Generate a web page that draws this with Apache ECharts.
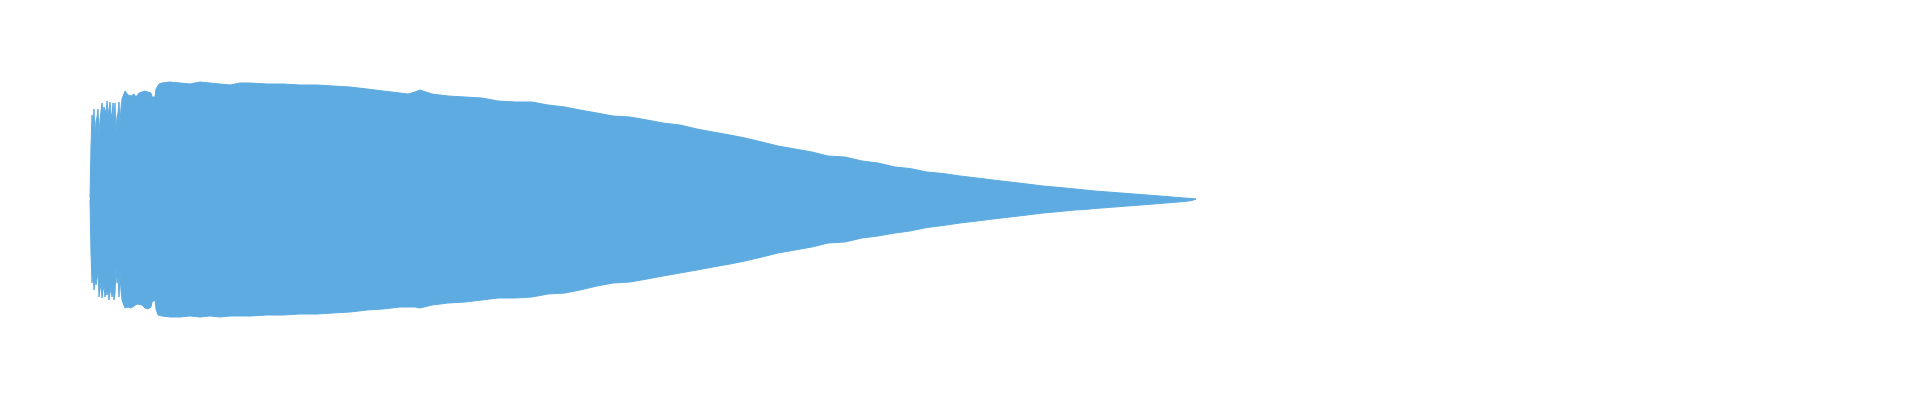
<!DOCTYPE html>
<html>
<head>
<meta charset="utf-8">
<script src="https://cdn.jsdelivr.net/npm/echarts@6/dist/echarts.min.js"></script>
<style>html,body{margin:0;padding:0;background:#fff}#c{width:1920px;height:400px}</style>
</head>
<body>
<div id="c"></div>
<script>
// sample position (time units) of each envelope reading
const time = [0,1,2,3,4,5,6,7,8,9,10,11,12,13,14,15,16,17,18,19,20,21,22,23,24,25,26,27,28,29,30,31,32,33,34,35,36,
  38,41,44,46,47,48,49,52,55,58,61,62,65,66,68,69,72,80,90,100,110,120,130,140,150,160,177,193,210,227,
  243,260,277,293,310,318,325,330,342,358,375,392,408,425,442,458,475,490,507,523,540,557,573,590,607,623,640,655,672,688,
  705,722,738,755,772,788,805,820,837,853,870,887,903,920,937,953,970,985,995,1005,1018,1031,1044,1057,1070,1082,1094,1102,1106];
// upper (max) envelope of the waveform
const upper = [1,53,84,72,90,63,78,82,90,64,79,80,96,85,92,90,86,98,84,90,97,86,82,96,80,96,66,82,86,97,76,91,100,101,101,108,108,
  104,103,105,102,100,100,106,107,108,107,106,102,102,110,111,115,116,117,116,115,117,116,115,114,116,116,115,115,114,114,
  113,112,110,108,106,105,107,109,105,103,102,101,98,97,97,94,92,89,86,83,82,79,76,74,70,67,64,61,57,53,
  50,47,43,42,38,36,32,30.5,27,25.5,23,21,19,17,15,13,11.5,10,9,8,7,6,5,4,3,2,1,0.5,0];
// lower (min) envelope of the waveform
const lower = [-1,-54,-84,-73,-91,-79,-86,-80,-73,-98,-91,-84,-99,-91,-88,-98,-93,-96,-91,-101,-94,-88,-98,-91,-101,-94,-68,-84,-78,-98,-76,-91,-101,-104,-104,-109,-109,
  -108,-109,-107,-106,-105,-104,-104,-106,-109,-110,-108,-103,-101,-110,-116,-116,-117,-118,-118,-117,-118,-117,-118,-117,-117,-117,-116,-116,-115,-115,
  -114,-113,-111,-110,-108,-108,-108,-109,-106,-104,-103,-101,-99,-99,-98,-95,-94,-91,-87,-84,-83,-80,-77,-74,-71,-68,-65,-62,-58,-54,
  -51,-48,-44,-43,-39,-37,-34,-32,-28.5,-26.5,-24,-22,-20,-18,-16,-14,-12.5,-11,-10.5,-9.5,-8.5,-7.5,-6.5,-5.5,-4.5,-3.5,-2.5,-1.5,0];

const color = '#5DABE1';
const chart = echarts.init(document.getElementById('c'), null, {renderer: 'canvas'});
function mk(vals) {
  return {
    type: 'line',
    data: time.map((t, i) => [t, vals[i]]),
    showSymbol: false,
    symbol: 'none',
    sampling: null,
    lineStyle: {color: color, width: 1},
    areaStyle: {color: color, opacity: 1},
    silent: true
  };
}
chart.setOption({
  animation: false,
  backgroundColor: '#ffffff',
  grid: {left: 90, top: 39, width: 1740, height: 320},
  xAxis: {type: 'value', min: 0, max: 1740, show: false},
  yAxis: {type: 'value', min: -160, max: 160, show: false},
  series: [mk(upper), mk(lower)]
});
</script>
</body>
</html>
